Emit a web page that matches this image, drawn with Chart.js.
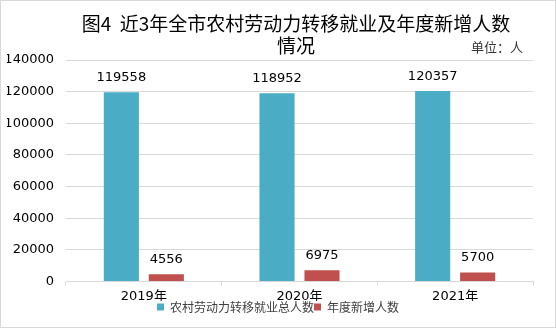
<!DOCTYPE html>
<html>
<head>
<meta charset="utf-8">
<script src="https://cdn.jsdelivr.net/npm/chart.js@4.4.0/dist/chart.umd.min.js"></script>
<style>
  html, body { margin: 0; padding: 0; background: #fff; }
  #wrap { width: 556px; height: 328px; box-sizing: border-box; border: 1px solid #d9d9d9; }
</style>
</head>
<body>
<div id="wrap"><canvas id="myChart" width="554" height="326"></canvas></div>
<script>
const years = ['2019年', '2020年', '2021年'];
const totalWorkers = [119558, 118952, 120357];
const newWorkers = [4556, 6975, 5700];
const titleLines = ['图4  近3年全市农村劳动力转移就业及年度新增人数', '情况'];
const unitText = '单位：人';

const FONT = '"DejaVu Sans", "Noto Sans CJK SC", sans-serif';
const CJK = '"Noto Sans CJK SC", sans-serif';

// title (sits a bit right of centre in the original), unit note, value labels
const textLayer = {
    id: 'textLayer',
    afterDatasetsDraw(chart) {
        const ctx = chart.ctx;
        ctx.save();
        ctx.font = '13px ' + FONT;
        ctx.fillStyle = '#000';
        ctx.textAlign = 'center';
        ctx.textBaseline = 'alphabetic';
        chart.data.datasets.forEach((ds, i) => {
            chart.getDatasetMeta(i).data.forEach((bar, j) => {
                ctx.fillText(String(ds.data[j]), bar.x, bar.y - 11);
            });
        });

        ctx.font = '19px ' + CJK;
        ctx.textBaseline = 'middle';
        const cx = chart.width / 2 + 18;
        titleLines.forEach((line, k) => ctx.fillText(line, cx, 23 + k * 22));

        ctx.font = '13px ' + CJK;
        ctx.textAlign = 'right';
        ctx.fillStyle = '#333';
        ctx.fillText(unitText, chart.width - 32, 46);
        ctx.restore();
    }
};

new Chart(document.getElementById('myChart').getContext('2d'), {
    type: 'bar',
    data: {
        labels: years,
        datasets: [
            { label: '农村劳动力转移就业总人数', data: totalWorkers, backgroundColor: '#4BACC6',
              categoryPercentage: 0.578, barPercentage: 0.78 },
            { label: '年度新增人数', data: newWorkers, backgroundColor: '#C0504D',
              categoryPercentage: 0.578, barPercentage: 0.78 }
        ]
    },
    options: {
        responsive: false,
        animation: false,
        layout: { padding: { left: 6, right: 6, top: 59, bottom: 4 } },
        plugins: {
            title: { display: false },
            legend: {
                position: 'bottom',
                labels: {
                    boxWidth: 7, boxHeight: 7, padding: 0, color: '#404040',
                    font: { family: CJK, size: 12 }
                }
            },
            tooltip: { enabled: false }
        },
        scales: {
            x: {
                afterFit: scale => { scale.height -= 6; },
                grid: { drawOnChartArea: false, tickLength: 4, color: '#d9d9d9' },
                border: { color: '#d9d9d9' },
                ticks: { color: '#000', font: { family: FONT, size: 13 }, padding: 3 }
            },
            y: {
                min: 0, max: 140000,
                afterFit: scale => { scale.width = 59; },
                ticks: { stepSize: 20000, color: '#000', font: { family: FONT, size: 13 }, padding: 12,
                         callback: v => String(v) },
                grid: { color: '#d9d9d9', drawTicks: false },
                border: { display: false }
            },
            // empty right-hand axis, only keeps the plot clear of the right edge
            spacer: {
                type: 'linear', position: 'right', min: 0, max: 1,
                afterFit: scale => { scale.width = 16; },
                ticks: { display: false },
                grid: { display: false },
                border: { display: false }
            }
        }
    },
    plugins: [textLayer]
});
</script>
</body>
</html>
